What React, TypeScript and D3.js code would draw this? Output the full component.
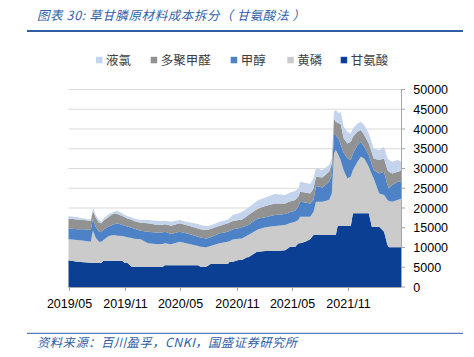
import React from 'react';
import * as d3 from 'd3';

const dates = [
  '2019-05-01','2019-05-30','2019-06-21','2019-07-13','2019-07-20','2019-07-29','2019-08-09','2019-08-17',
  '2019-08-23','2019-09-10','2019-09-27','2019-10-08','2019-10-24','2019-10-31','2019-11-09','2019-11-24',
  '2019-12-01','2019-12-23','2020-01-16','2020-02-18','2020-03-05','2020-03-11','2020-04-01','2020-04-29',
  '2020-05-20','2020-06-28','2020-07-06','2020-07-25','2020-08-08','2020-09-07','2020-10-04','2020-10-09',
  '2020-10-20','2020-11-08','2020-11-19','2020-12-05','2020-12-10','2021-01-07','2021-01-12','2021-02-03',
  '2021-03-07','2021-04-09','2021-04-26','2021-05-12','2021-05-23','2021-05-28','2021-06-14','2021-06-30',
  '2021-07-11','2021-07-19','2021-08-09','2021-08-31','2021-09-09','2021-09-16','2021-09-22','2021-09-28',
  '2021-10-03','2021-10-08','2021-10-18','2021-10-30','2021-11-10','2021-11-17','2021-12-02','2021-12-13',
  '2021-12-24','2022-01-08','2022-01-18','2022-01-24','2022-02-11','2022-02-27','2022-03-10','2022-03-15',
  '2022-03-26','2022-04-12','2022-04-25',
];

// 甘氨酸
const glycine = [
  6800,6410,6240,6160,6160,6160,6160,6160,
  6660,6660,6660,6660,6660,6160,6160,5140,
  5140,5140,5140,5140,5140,5480,5480,5480,
  5480,5480,5140,5140,5820,5820,5820,6410,
  6410,6830,6830,7510,7510,8940,8940,9110,
  9110,9300,10200,10200,11050,11050,11470,12060,
  13160,13160,13160,13160,13160,13160,13160,15430,
  15430,15430,15430,15430,15430,18640,18640,18640,
  18640,18640,15260,15260,15260,14000,10630,10040,
  10040,10040,10040,
];
// 黄磷
const yellowP = [
  5260,5480,5480,5310,8090,6340,5310,5310,
  5240,6240,6500,6340,6240,6640,6410,7260,
  7090,6920,5910,5660,5760,5570,5320,5990,
  5570,4900,5060,4900,4580,5230,5650,5190,
  5590,5370,5480,5490,5650,5460,5650,5990,
  6320,6390,6000,6330,5950,6740,6320,5730,
  5900,8430,8430,8850,10540,20660,21500,18370,
  17540,16570,14070,12070,12570,10960,13070,14330,
  13910,11800,13240,12230,8440,9280,11380,11760,
  11550,11970,12390,
];
// 甲醇
const methanol = [
  2780,2700,2870,2950,3120,2700,2530,2380,
  2600,2400,2740,3110,2790,2700,2730,2600,
  2610,2190,2950,2950,2950,2950,2610,2530,
  2530,2360,2350,2270,2200,2530,2530,2600,
  2600,2700,2790,2600,2530,2800,2780,2530,
  2790,2780,2800,2780,3500,3800,3610,3380,
  2950,3960,3630,4640,4640,5060,3800,4000,
  4220,4000,4500,5050,4130,4220,4220,3800,
  2950,2960,2500,2110,5060,5900,3800,3160,
  4220,4640,4370,
];
// 多聚甲醛
const paraform = [
  2530,2530,2360,2280,1940,2400,2280,2260,
  2300,2500,2740,2360,2270,2200,2070,2000,
  1860,2030,2110,1940,1900,1860,2110,2110,
  2110,2100,2100,2110,2100,1940,2110,2100,
  2100,2050,2020,2300,2530,2500,2530,2860,
  2950,2700,2700,2700,2500,2530,2500,2530,
  2950,2360,2530,2530,2950,3790,3370,3800,
  4220,5240,3610,3800,4640,4210,3370,2950,
  2960,2950,3000,2950,3370,3370,3790,4220,
  2950,2530,2600,
];
// 液氯
const chlorine = [
  590,510,420,420,760,600,670,420,
  500,670,420,840,680,600,590,600,
  670,670,840,1010,990,920,1010,840,
  840,1100,1050,1010,900,1010,1010,1100,
  1520,1750,1940,1900,1930,2100,2110,2200,
  2360,2110,2200,2280,1960,2530,2500,2360,
  2530,2110,1850,1690,1210,1690,2950,2700,
  2530,3120,2950,2950,2110,2110,2110,2110,
  2530,2530,2500,2530,2530,2950,2950,2950,
  2950,2950,2300,
];

const stackKeys = ['甘氨酸', '黄磷', '甲醇', '多聚甲醛', '液氯'];
const legendOrder = ['液氯', '多聚甲醛', '甲醇', '黄磷', '甘氨酸'];
const colors: Record<string, string> = {
  '甘氨酸': '#0a3f93',
  '黄磷': '#cbcbcb',
  '甲醇': '#4d83c6',
  '多聚甲醛': '#929292',
  '液氯': '#c3d4ec',
};
const yTicks = [0, 5000, 10000, 15000, 20000, 25000, 30000, 35000, 40000, 45000, 50000];
const xTickDates = ['2019-05-01', '2019-11-01', '2020-05-01', '2020-11-01', '2021-05-01', '2021-11-01'];
const xTickLabels = ['2019/05', '2019/11', '2020/05', '2020/11', '2021/05', '2021/11'];
const titleText = '图表 30:  草甘膦原材料成本拆分（ 甘氨酸法 ）';
const sourceText = '资料来源：百川盈孚，CNKI，国盛证券研究所';

export default function App() {
  const parse = d3.timeParse('%Y-%m-%d');
  const rows = dates.map((d, i) => ({
    date: parse(d) as Date,
    '甘氨酸': glycine[i],
    '黄磷': yellowP[i],
    '甲醇': methanol[i],
    '多聚甲醛': paraform[i],
    '液氯': chlorine[i],
  }));

  const left = 68.5, right = 401.5, top = 89.5, bottom = 287;
  const x = d3.scaleTime()
    .domain([parse('2019-05-01') as Date, parse('2022-04-25') as Date])
    .range([left, right]);
  const y = d3.scaleLinear().domain([0, 50000]).range([bottom, top]);

  const stack = d3.stack<any>().keys(stackKeys);
  const layers = stack(rows);
  const area = d3.area<any>()
    .x((d) => x(d.data.date))
    .y0((d) => y(d[0]))
    .y1((d) => y(d[1]))
    .curve(d3.curveLinear);

  const legendX = [96, 150.7, 230.7, 287.3, 340.7];
  const cjk = '"Noto Sans CJK SC", "Noto Sans", sans-serif';
  const latin = '"Liberation Sans", Arial, sans-serif';

  return (
    <svg width={474} height={357} style={{ position: 'absolute', left: 0, top: 0, background: '#fff' }}>
      {/* title */}
      <text x={37} y={20} fontFamily={cjk} fontSize={12.5} fontStyle="italic" letterSpacing={0.6} fill="#2f5ea6">{titleText}</text>
      <line x1={27} x2={463} y1={31} y2={31} stroke="#2f5ea6" strokeWidth={2} />

      {/* legend */}
      {legendOrder.map((k, i) => (
        <g key={k}>
          <rect x={legendX[i]} y={56.8} width={6.5} height={6.5} fill={colors[k]} />
          <text x={legendX[i] + 10} y={65} fontFamily={cjk} fontSize={12.5} fill="#404040">{k}</text>
        </g>
      ))}

      {/* gridlines */}
      {yTicks.filter((t) => t > 0).map((t) => (
        <line key={t} x1={left} x2={right} y1={y(t)} y2={y(t)} stroke="#d9d9d9" strokeWidth={1} />
      ))}

      {/* areas */}
      {layers.map((layer) => (
        <path key={layer.key} d={area(layer) || ''} fill={colors[layer.key]} stroke="none" />
      ))}

      {/* x axis */}
      <line x1={left} x2={right} y1={bottom + 0.5} y2={bottom + 0.5} stroke="#a6a6a6" strokeWidth={1} />
      {xTickDates.map((d, i) => {
        const xx = Math.round(x(parse(d) as Date)) + 0.5;
        return (
          <g key={d}>
            <line x1={xx} x2={xx} y1={bottom} y2={bottom + 4} stroke="#a6a6a6" strokeWidth={1} />
            <text x={xx} y={308.3} textAnchor="middle" fontFamily={latin} fontSize={12.5} fill="#000">{xTickLabels[i]}</text>
          </g>
        );
      })}

      {/* y axis (right) */}
      <line x1={right} x2={right} y1={top} y2={bottom} stroke="#a6a6a6" strokeWidth={1} />
      {yTicks.map((t) => (
        <g key={t}>
          <line x1={right} x2={right + 3.5} y1={y(t)} y2={y(t)} stroke="#a6a6a6" strokeWidth={1} />
          <text x={413.3} y={y(t) + 4.5} fontFamily={latin} fontSize={12.5} fill="#000">{t}</text>
        </g>
      ))}

      {/* footer */}
      <line x1={27} x2={463} y1={333.3} y2={333.3} stroke="#2f5ea6" strokeWidth={1} />
      <text x={37} y={347} fontFamily={cjk} fontSize={12.3} fontStyle="italic" letterSpacing={0.5} fill="#2f5ea6">{sourceText}</text>
    </svg>
  );
}
